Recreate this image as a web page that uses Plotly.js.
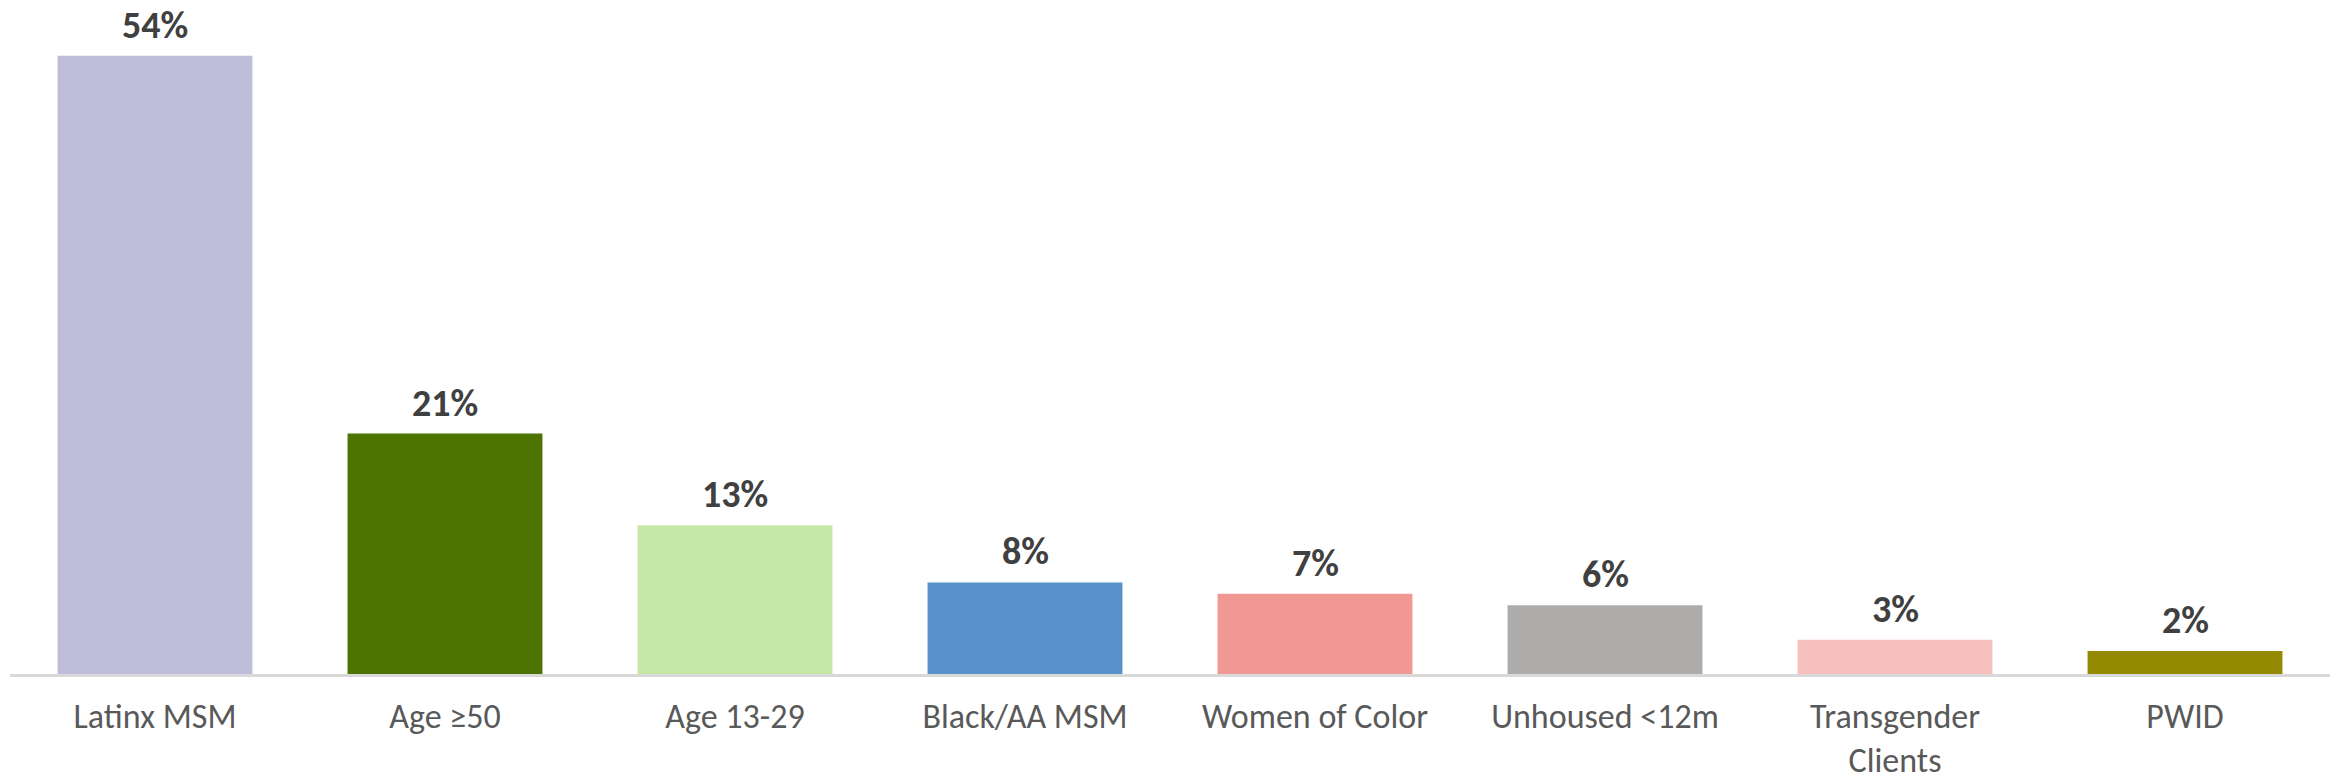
<!DOCTYPE html>
<html>
<head>
<meta charset="utf-8">
<script src="https://cdn.plot.ly/plotly-3.0.1.min.js"></script>
<style>html,body{margin:0;padding:0;background:#fff;}#chart{width:2334px;height:784px;}</style>
</head>
<body>
<div id="chart"></div>
<script>
const categories = ["Latinx MSM", "Age ≥50", "Age 13-29", "Black/AA MSM", "Women of Color", "Unhoused <12m", "Transgender<br>Clients", "PWID"];
const values = [54, 21, 13, 8, 7, 6, 3, 2];
const valueLabels = ["54%", "21%", "13%", "8%", "7%", "6%", "3%", "2%"];
const barColors = ["#C0BDDA", "#4D7300", "#C6E8A6", "#5891C9", "#F19894", "#AEABAB", "#F7C0BF", "#948A00"];

const FONT = "Carlito, Calibri, Lato, 'Open Sans', sans-serif";

const trace = {
  type: "bar",
  x: categories,
  y: values,
  marker: {color: barColors},
  hoverinfo: "none"
};

const annotations = categories.map((c, i) => ({
  x: c,
  y: values[i],
  xref: "x",
  yref: "y",
  text: valueLabels[i],
  showarrow: false,
  yanchor: "bottom",
  xanchor: "center",
  yshift: 6,
  font: {family: FONT, size: 38, color: "#404040", weight: "bold"}
}));

const layout = {
  width: 2334,
  height: 784,
  margin: {l: 10, r: 4, t: 10, b: 110},
  paper_bgcolor: "#ffffff",
  plot_bgcolor: "#ffffff",
  bargap: 0.328,
  showlegend: false,
  annotations: annotations,
  xaxis: {
    type: "category",
    showline: true,
    linecolor: "#D9D9D9",
    linewidth: 3,
    showgrid: false,
    zeroline: false,
    ticks: "",
    ticklabelstandoff: 10,
    tickfont: {family: FONT, size: 34, color: "#595959"}
  },
  yaxis: {
    range: [0, 58],
    visible: false,
    showgrid: false,
    zeroline: false
  },
  font: {family: FONT}
};

Plotly.newPlot("chart", [trace], layout, {displayModeBar: false, staticPlot: true});
</script>
</body>
</html>
